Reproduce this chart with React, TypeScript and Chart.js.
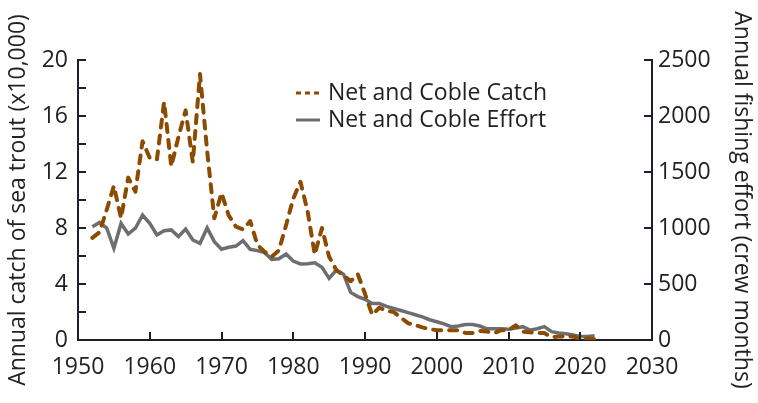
import { useEffect, useRef } from 'react';
import { Chart, registerables } from 'chart.js';

Chart.register(...registerables);

// ---------------- data ----------------
const years = [
  1952, 1953, 1954, 1955, 1956, 1957, 1958, 1959, 1960, 1961,
  1962, 1963, 1964, 1965, 1966, 1967, 1968, 1969, 1970, 1971,
  1972, 1973, 1974, 1975, 1976, 1977, 1978, 1979, 1980, 1981,
  1982, 1983, 1984, 1985, 1986, 1987, 1988, 1989, 1990, 1991,
  1992, 1993, 1994, 1995, 1996, 1997, 1998, 1999, 2000, 2001,
  2002, 2003, 2004, 2005, 2006, 2007, 2008, 2009, 2010, 2011,
  2012, 2013, 2014, 2015, 2016, 2017, 2018, 2019, 2020, 2021,
  2022,
];

// Annual catch of sea trout (x10,000)
const catchValues = [
  7.3, 7.7, 9.3, 11.0, 8.7, 11.6, 10.6, 14.2, 13.0, 12.9,
  17.0, 12.4, 14.5, 16.4, 12.7, 19.0, 13.5, 8.7, 10.5, 8.9,
  8.1, 7.9, 8.5, 6.8, 6.3, 5.95, 6.4, 8.2, 10.1, 11.3,
  9.2, 6.1, 8.0, 5.95, 5.0, 4.6, 4.2, 4.7, 3.3, 1.8,
  2.3, 2.1, 2.0, 1.6, 1.2, 1.07, 0.9, 0.78, 0.7, 0.7,
  0.7, 0.7, 0.5, 0.5, 0.65, 0.6, 0.5, 0.7, 0.7, 1.05,
  0.6, 0.55, 0.5, 0.5, 0.2, 0.25, 0.25, 0.25, 0.07, 0.1,
  0.05,
];

// Annual fishing effort (crew months)
const effortValues = [
  1012, 1050, 1000, 819, 1041, 946, 998, 1116, 1041, 938,
  975, 983, 923, 991, 893, 863, 1000, 878, 810, 828,
  839, 888, 810, 798, 780, 720, 726, 768, 705, 679,
  681, 690, 649, 550, 625, 588, 425, 388, 363, 325,
  325, 300, 281, 263, 244, 225, 206, 181, 163, 144,
  119, 125, 138, 138, 125, 100, 100, 100, 95, 106,
  119, 88, 100, 119, 75, 63, 56, 44, 31, 31,
  38,
];

const seriesLabels = ['Net and Coble Catch', 'Net and Coble Effort'];
const leftTitle = 'Annual catch of sea trout (x10,000)';
const rightTitle = 'Annual fishing effort (crew months)';

// ---------------- style ----------------
const FONT = "'Open Sans', sans-serif";
const FONT_SIZE = 23;
const AXIS_COLOR = '#1e1e2c';
const TEXT_COLOR = '#222222';
const CATCH_COLOR = '#8b4b00';
const EFFORT_COLOR = '#6e6d72';

const insideTicks = {
  id: 'insideTicks',
  afterDraw(chart: any) {
    const ctx = chart.ctx;
    const { left, right, bottom } = chart.chartArea;
    const len = 8;
    ctx.save();
    ctx.strokeStyle = AXIS_COLOR;
    ctx.lineWidth = 2;
    const sy = chart.scales.y;
    sy.ticks.forEach((t: any) => {
      const p = Math.round(sy.getPixelForValue(t.value));
      ctx.beginPath();
      ctx.moveTo(left, p);
      ctx.lineTo(left + len, p);
      ctx.stroke();
    });
    const sy1 = chart.scales.y1;
    sy1.ticks.forEach((t: any) => {
      const p = Math.round(sy1.getPixelForValue(t.value));
      ctx.beginPath();
      ctx.moveTo(right - len, p);
      ctx.lineTo(right, p);
      ctx.stroke();
    });
    const sx = chart.scales.x;
    sx.ticks.forEach((t: any) => {
      const p = Math.round(sx.getPixelForValue(t.value));
      ctx.beginPath();
      ctx.moveTo(p, bottom - len);
      ctx.lineTo(p, bottom);
      ctx.stroke();
    });
    ctx.restore();
  },
};

const lineLegend = {
  id: 'lineLegend',
  afterDraw(chart: any) {
    const ctx = chart.ctx;
    const sampleX0 = 296;
    const sampleX1 = 320;
    const textX = 328;
    const rows = [93, 120];
    ctx.save();
    chart.data.datasets.forEach((ds: any, i: number) => {
      const y = rows[i];
      ctx.beginPath();
      ctx.strokeStyle = ds.borderColor;
      ctx.lineWidth = 3;
      ctx.lineCap = 'butt';
      ctx.setLineDash(i === 0 ? [5, 4] : []);
      ctx.moveTo(sampleX0, y);
      ctx.lineTo(sampleX1, y);
      ctx.stroke();
      ctx.setLineDash([]);
      ctx.fillStyle = TEXT_COLOR;
      ctx.font = `${FONT_SIZE}px ${FONT}`;
      ctx.textBaseline = 'middle';
      ctx.textAlign = 'left';
      ctx.fillText(ds.label, textX, y);
    });
    ctx.restore();
  },
};

export default function App() {
  const canvasRef = useRef<HTMLCanvasElement | null>(null);

  useEffect(() => {
    const canvas = canvasRef.current;
    if (!canvas) return;
    const catchData = years.map((yr, i) => ({ x: yr, y: catchValues[i] }));
    const effortData = years.map((yr, i) => ({ x: yr, y: effortValues[i] }));

    const tickFont = { family: FONT, size: FONT_SIZE };

    const chart = new Chart(canvas, {
      type: 'line',
      data: {
        datasets: [
          {
            label: seriesLabels[0],
            data: catchData,
            yAxisID: 'y',
            borderColor: CATCH_COLOR,
            borderWidth: 4,
            borderDash: [8, 8],
            borderCapStyle: 'round',
            borderJoinStyle: 'round',
            pointRadius: 0,
            tension: 0,
            fill: false,
          },
          {
            label: seriesLabels[1],
            data: effortData,
            yAxisID: 'y1',
            borderColor: EFFORT_COLOR,
            borderWidth: 3.5,
            pointRadius: 0,
            tension: 0,
            fill: false,
          },
        ],
      },
      options: {
        responsive: false,
        animation: false,
        layout: { padding: { top: 60, left: 0, right: 0, bottom: 0 } },
        plugins: {
          legend: { display: false },
          tooltip: { enabled: false },
        },
        scales: {
          x: {
            type: 'linear',
            min: 1950,
            max: 2030,
            grid: { display: false, drawTicks: false },
            border: { display: true, color: AXIS_COLOR, width: 2 },
            ticks: {
              stepSize: 10,
              autoSkip: false,
              maxRotation: 0,
              padding: 14,
              color: TEXT_COLOR,
              font: tickFont,
              callback: (v: any) => String(v),
            },
            afterFit: (s: any) => {
              s.height = 63;
            },
          },
          y: {
            type: 'linear',
            position: 'left',
            min: 0,
            max: 20,
            grid: { display: false, drawTicks: false },
            border: { display: true, color: AXIS_COLOR, width: 2 },
            ticks: {
              stepSize: 2,
              autoSkip: false,
              padding: 10,
              color: TEXT_COLOR,
              font: tickFont,
              callback: (v: any) => (Number(v) % 4 === 0 ? String(v) : ''),
            },
            title: {
              display: true,
              text: leftTitle,
              color: TEXT_COLOR,
              font: tickFont,
              padding: { top: 5, bottom: 0 },
            },
            afterFit: (s: any) => {
              s.width = 78;
            },
          },
          y1: {
            type: 'linear',
            position: 'right',
            min: 0,
            max: 2500,
            grid: { display: false, drawTicks: false },
            border: { display: true, color: AXIS_COLOR, width: 2 },
            ticks: {
              stepSize: 500,
              autoSkip: false,
              padding: 6,
              color: TEXT_COLOR,
              font: tickFont,
              callback: (v: any) => String(v),
            },
            title: {
              display: true,
              text: rightTitle,
              color: TEXT_COLOR,
              font: tickFont,
              padding: { top: 3, bottom: 0 },
            },
            afterFit: (s: any) => {
              s.width = 106;
            },
          },
        },
      },
      plugins: [insideTicks, lineLegend],
    } as any);

    return () => {
      chart.destroy();
    };
  }, []);

  return (
    <div style={{ position: 'absolute', left: 0, top: 0, width: 758, height: 403, background: '#ffffff' }}>
      <canvas ref={canvasRef} width={758} height={403} style={{ display: 'block' }} />
    </div>
  );
}
